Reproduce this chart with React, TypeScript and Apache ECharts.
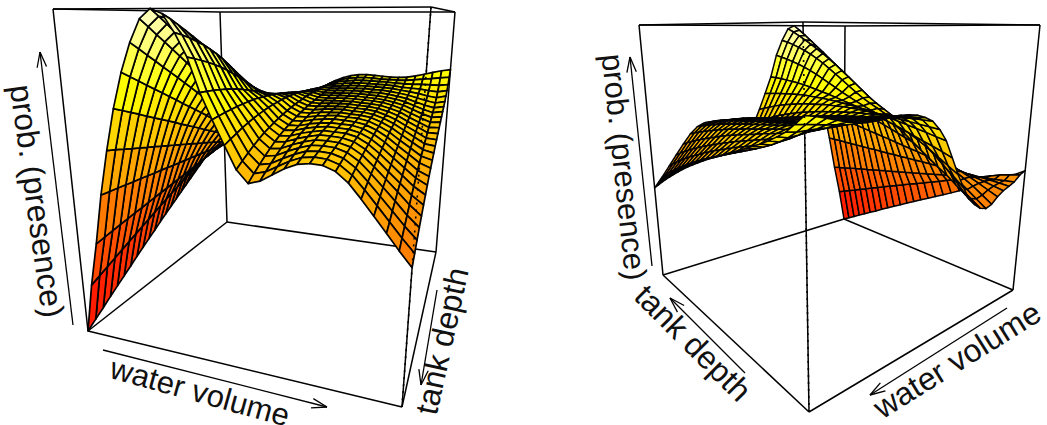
import React, { useEffect, useRef } from "react";
import * as echarts from "echarts";

// Height of the fitted surface (per mille of the prob. axis).
// One row per water-volume step, one column per tank-depth step (deepest first).
const surfaceZ: number[][] = [
[0,17,34,52,69,86,103,121,138,155,172,190,207,224,241,258,275,292,310,327,345,363,383,405,428,450],
[148,160,172,184,196,208,220,232,244,256,268,280,292,303,315,327,339,351,363,375,387,399,411,423,432,440],
[280,286,292,298,304,310,315,321,327,333,338,344,350,356,362,368,374,380,386,392,398,404,408,412,416,420],
[433,432,432,431,430,430,429,428,428,427,426,426,425,425,424,424,423,422,422,421,420,419,418,416,413,410],
[571,565,558,551,545,538,532,525,518,512,505,499,492,485,478,472,465,458,451,444,437,430,423,416,408,400],
[700,688,676,664,651,639,627,615,603,590,578,566,554,541,529,517,505,492,480,468,456,443,430,415,400,385],
[810,793,776,758,741,724,707,690,672,655,638,621,604,586,569,552,535,518,500,483,466,449,430,411,388,365],
[900,879,857,836,814,793,772,750,729,707,686,664,643,621,600,579,557,536,514,493,472,450,428,405,381,357],
[970,946,921,897,872,848,823,799,774,750,725,701,676,652,627,603,578,554,529,505,480,458,435,412,389,365],
[1000,978,954,929,904,879,853,828,803,778,753,728,703,678,653,628,603,578,553,529,505,482,460,435,410,385],
[985,970,952,934,915,895,875,853,830,806,782,757,732,708,687,668,650,632,612,592,570,543,513,480,445,410],
[930,922,912,900,887,872,855,836,815,793,771,749,727,707,690,674,658,642,626,610,590,566,539,510,483,455],
[860,853,845,836,826,815,802,788,773,757,741,725,710,696,683,670,658,646,633,620,605,587,568,547,526,505],
[760,759,757,754,751,747,742,736,729,722,715,707,699,691,683,674,665,656,646,636,625,613,601,590,578,565],
[685,689,693,696,699,701,703,704,704,703,702,700,698,695,692,688,684,679,674,668,661,654,647,640,632,625],
[615,625,634,643,651,658,664,669,674,678,681,684,686,687,688,688,687,686,684,682,680,677,674,671,668,665],
[550,565,579,592,604,615,624,632,640,647,653,659,664,668,672,676,679,682,684,686,688,690,691,693,694,695],
[515,532,548,563,577,590,601,611,620,628,636,643,649,655,660,665,670,674,678,682,686,690,695,700,705,710],
[525,540,554,568,580,592,602,612,620,628,635,642,648,654,659,664,668,673,677,682,687,692,698,704,712,720],
[545,558,571,583,594,604,613,621,628,635,641,647,652,657,662,666,670,675,679,684,689,695,701,708,716,725],
[565,576,586,596,605,613,620,627,633,639,644,649,654,658,662,666,671,675,680,685,690,696,703,710,718,727],
[580,589,598,606,613,620,626,631,636,641,646,650,654,658,662,666,670,675,679,684,690,696,702,709,717,725],
[585,593,600,607,613,619,624,629,634,639,643,647,651,655,659,663,668,672,677,682,688,694,700,707,714,722],
[583,590,597,604,610,616,622,627,632,636,641,645,649,653,657,661,666,670,675,681,687,693,699,706,713,720],
[570,578,586,593,600,607,613,618,624,629,634,639,643,648,652,657,662,666,671,677,683,690,697,704,712,720],
[543,553,562,571,579,587,594,601,608,614,620,626,632,637,643,648,654,659,665,671,678,685,692,702,712,722],
[505,517,528,539,549,559,568,577,586,594,602,609,616,623,630,637,643,650,657,664,672,680,690,702,716,729],
[465,479,492,505,517,528,539,549,559,569,578,587,596,604,612,620,628,636,644,653,663,675,688,703,720,737],
[425,441,456,471,485,498,510,522,534,545,556,566,576,586,595,604,613,622,632,642,654,667,683,702,724,746],
[385,403,420,436,452,467,481,495,508,521,533,545,556,567,578,589,600,611,622,634,647,662,680,702,728,754],
[348,368,388,407,425,443,460,477,493,508,523,537,551,564,577,590,603,615,628,641,654,670,687,706,732,760],
];

const zLabel = "prob. (presence)";
const xLabel = "water volume";
const yLabel = "tank depth";

type P = [number, number];
type View = {
  bottom: [P, P, P, P]; // (x0,f0) (x1,f0) (x1,f1) (x0,f1)
  top: [P, P, P, P];
  depthDescending: boolean;
  lineWidth: number;
  dotted: [P, P];
  arrows: [P, P][];
};

const leftView: View = {
  bottom: [[88, 331], [402, 407], [436, 252], [227, 222]],
  top: [[53, 9], [431, 7], [455, 12], [220, 12]],
  depthDescending: true,
  lineWidth: 1.7,
  dotted: [[402, 407], [431, 7]],
  arrows: [
    [[73, 325], [40, 52]],
    [[103, 350], [327, 407]],
    [[437, 290], [421, 385]],
  ],
};

const rightView: View = {
  bottom: [[844, 219], [663, 275], [809, 412], [1013, 290]],
  top: [[845, 26], [639, 25], [803, 22], [1040, 25]],
  depthDescending: false,
  lineWidth: 1.5,
  dotted: [[809, 412], [803, 22]],
  arrows: [
    [[652, 266], [630, 57]],
    [[1007, 308], [870, 395]],
    [[745, 373], [670, 298]],
  ],
};

// The bottom face is a homography of the unit square; the top face re-uses its
// homogeneous corner weights, and a height moves a point between the two faces.
function projection(v: View) {
  const [[x0, y0], [x1, y1], [x2, y2], [x3, y3]] = v.bottom;
  const dx1 = x1 - x2, dx2 = x3 - x2, sx = x0 - x1 + x2 - x3;
  const dy1 = y1 - y2, dy2 = y3 - y2, sy = y0 - y1 + y2 - y3;
  const det = dx1 * dy2 - dx2 * dy1;
  const g = (sx * dy2 - dx2 * sy) / det;
  const h = (dx1 * sy - sx * dy1) / det;
  const cornerW = [1, g + 1, g + h + 1, h + 1];
  const face = (q: P[], u: number, w: number): P => {
    const l = [(1 - u) * (1 - w), u * (1 - w), u * w, (1 - u) * w].map((b, i) => b * cornerW[i]);
    const s = l[0] + l[1] + l[2] + l[3];
    return [
      (l[0] * q[0][0] + l[1] * q[1][0] + l[2] * q[2][0] + l[3] * q[3][0]) / s,
      (l[0] * q[0][1] + l[1] * q[1][1] + l[2] * q[2][1] + l[3] * q[3][1]) / s,
    ];
  };
  return (u: number, w: number, z: number): P => {
    const b = face(v.bottom, u, w);
    const t = face(v.top, u, w);
    return [b[0] + (t[0] - b[0]) * z, b[1] + (t[1] - b[1]) * z];
  };
}

function heat(z: number): string {
  const t = Math.max(0, Math.min(1, z));
  const g = Math.round(Math.min(1, t / 0.75) * 255);
  const b = t > 0.75 ? Math.round(((t - 0.75) / 0.25) * 200) : 0;
  return `rgb(255,${g},${b})`;
}

function facets(v: View) {
  const nx = surfaceZ.length - 1;
  const nf = surfaceZ[0].length - 1;
  const proj = projection(v);
  const pt = (i: number, j: number): P => proj(i / nx, j / nf, surfaceZ[i][j] / 1000);
  const out: number[][] = [];
  for (let i = 0; i < nx; i++) {
    for (let k = 0; k < nf; k++) {
      const j = v.depthDescending ? nf - 1 - k : k;
      const m =
        (surfaceZ[i][j] + surfaceZ[i + 1][j] + surfaceZ[i + 1][j + 1] + surfaceZ[i][j + 1]) / 4000;
      out.push([m, ...pt(i, j), ...pt(i + 1, j), ...pt(i + 1, j + 1), ...pt(i, j + 1)]);
    }
  }
  return out;
}

function boxSegments(v: View) {
  const s: number[][] = [];
  for (let i = 0; i < 4; i++) {
    const n = (i + 1) % 4;
    s.push([...v.bottom[i], ...v.bottom[n]]);
    s.push([...v.top[i], ...v.top[n]]);
    if (v.bottom[i] !== v.dotted[0]) s.push([...v.bottom[i], ...v.top[i]]);
  }
  return s;
}

function arrowSegments(v: View) {
  const s: number[][] = [];
  for (const [a, b] of v.arrows) {
    s.push([...a, ...b]);
    const ang = Math.atan2(a[1] - b[1], a[0] - b[0]);
    for (const d of [-0.3, 0.3]) {
      s.push([...b, b[0] + 16 * Math.cos(ang + d), b[1] + 16 * Math.sin(ang + d)]);
    }
  }
  return s;
}

const polygonItem = (lineWidth: number) => (_: any, api: any) => {
  const pts = [1, 3, 5, 7].map((o) => api.coord([api.value(o), api.value(o + 1)]));
  return {
    type: "polygon",
    shape: { points: pts },
    style: { fill: heat(api.value(0)), stroke: "#000", lineWidth, lineJoin: "round" },
  };
};

const segmentItem = (lineWidth: number, dash?: number[]) => (_: any, api: any) => {
  const a = api.coord([api.value(0), api.value(1)]);
  const b = api.coord([api.value(2), api.value(3)]);
  return {
    type: "line",
    shape: { x1: a[0], y1: a[1], x2: b[0], y2: b[1] },
    style: { stroke: "#000", lineWidth, lineDash: dash, fill: null },
  };
};

const custom = (data: number[][], renderItem: any) => ({
  type: "custom",
  coordinateSystem: "cartesian2d",
  silent: true,
  clip: false,
  data,
  renderItem,
});

const label = (text: string, x: number, y: number, deg: number, size: number) => ({
  type: "text",
  x,
  y,
  rotation: (deg * Math.PI) / 180,
  silent: true,
  style: {
    text,
    x: 0,
    y: 0,
    fill: "#111",
    fontSize: size,
    fontFamily: "Liberation Sans",
    textAlign: "center",
    textVerticalAlign: "middle",
  },
});

export default function App() {
  const ref = useRef<HTMLDivElement>(null);
  useEffect(() => {
    document.body.style.margin = "0";
    const chart = echarts.init(ref.current!, undefined, { renderer: "svg" });
    chart.setOption({
      animation: false,
      backgroundColor: "#fff",
      grid: { left: 0, top: 0, right: 0, bottom: 0 },
      xAxis: { type: "value", min: 0, max: 1047, show: false },
      yAxis: { type: "value", min: 0, max: 425, inverse: true, show: false },
      series: [
        custom(boxSegments(leftView), segmentItem(1.5)),
        custom(boxSegments(rightView), segmentItem(1.5)),
        custom(facets(leftView), polygonItem(leftView.lineWidth)),
        custom(facets(rightView), polygonItem(rightView.lineWidth)),
        custom([[...leftView.dotted[0], ...leftView.dotted[1]]], segmentItem(1.6, [2, 5])),
        custom([[...rightView.dotted[0], ...rightView.dotted[1]]], segmentItem(1.6, [2, 5])),
        custom(arrowSegments(leftView), segmentItem(1.3)),
        custom(arrowSegments(rightView), segmentItem(1.3)),
      ],
      graphic: [
        label(zLabel, 37, 201, -82, 32),
        label(xLabel, 200, 392, -15.5, 31),
        label(yLabel, 442, 341, 77.5, 32),
        label(zLabel, 624, 167, -84, 31),
        label(xLabel, 957, 360, 32, 32),
        label(yLabel, 693, 343, -45, 32),
      ],
    });
    return () => chart.dispose();
  }, []);
  return (
    <div
      ref={ref}
      style={{ position: "fixed", left: 0, top: 0, width: 1047, height: 425, background: "#fff" }}
    />
  );
}
